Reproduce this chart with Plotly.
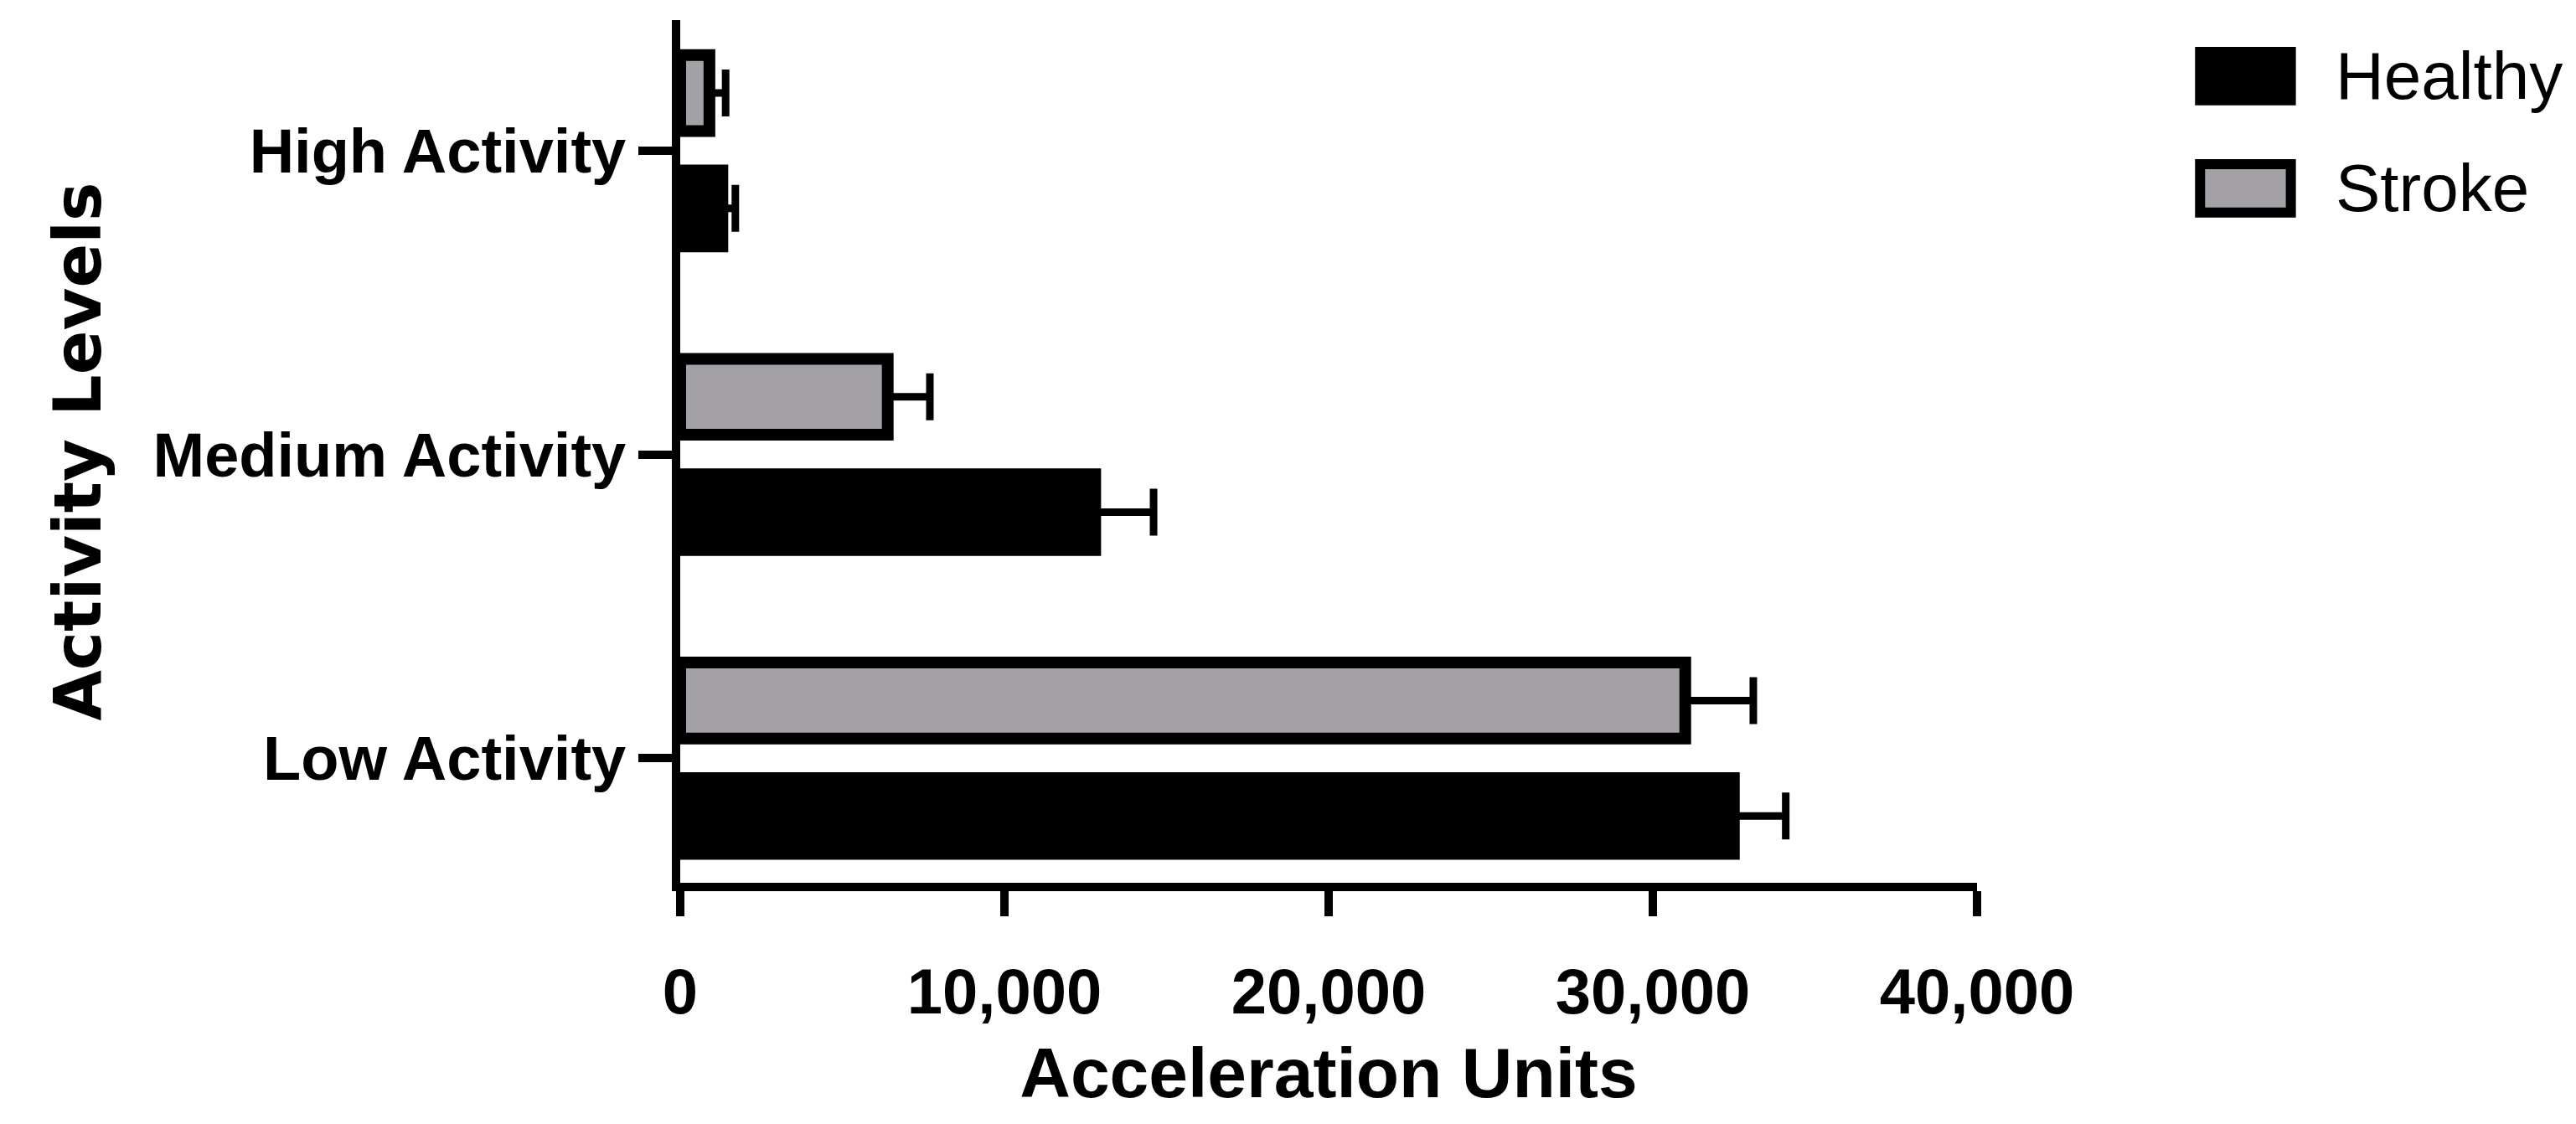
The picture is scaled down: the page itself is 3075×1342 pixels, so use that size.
import plotly.graph_objects as go

categories = ["Low Activity", "Medium Activity", "High Activity"]
healthy = [32500, 12800, 1300]
healthy_err = [1600, 1800, 400]
stroke = [31000, 6400, 900]
stroke_err = [2100, 1300, 500]
series_names = ["Healthy", "Stroke"]
series_colors = ["black", "#a3a1a6"]

FONT = "Liberation Sans, Arial, sans-serif"

fig = go.Figure()
fig.add_trace(go.Bar(
    y=categories, x=healthy, orientation="h", name="Healthy",
    width=0.25, offset=-0.315,
    marker=dict(color="black", line=dict(color="black", width=14)),
    error_x=dict(type="data", array=healthy_err, arrayminus=[0, 0, 0],
                 symmetric=False, color="black", thickness=9, width=28),
))
fig.add_trace(go.Bar(
    y=categories, x=stroke, orientation="h", name="Stroke",
    width=0.25, offset=0.065,
    marker=dict(color="#a3a1a6", line=dict(color="black", width=14)),
    error_x=dict(type="data", array=stroke_err, arrayminus=[0, 0, 0],
                 symmetric=False, color="black", thickness=9, width=28),
))

# legend drawn by hand so the swatches can be large
for i, (name, col) in enumerate(zip(series_names, series_colors)):
    yc = 0.935 - i * 0.13
    fig.add_shape(type="rect", xref="paper", yref="paper",
                  x0=1.172, x1=1.242, y0=yc - 0.028, y1=yc + 0.028,
                  fillcolor=col, line=dict(color="black", width=12))
    fig.add_annotation(text=name, xref="paper", yref="paper", x=1.275, y=yc,
                       xanchor="left", yanchor="middle", showarrow=False,
                       font=dict(family=FONT, size=80, color="black"))

fig.update_xaxes(
    range=[0, 40000], tickvals=[0, 10000, 20000, 30000, 40000],
    tickformat=",", showgrid=False, zeroline=False,
    showline=True, linecolor="black", linewidth=10,
    ticks="outside", ticklen=30, tickwidth=10, tickcolor="black",
    ticklabelstandoff=25,
    tickfont=dict(family=FONT, size=76, color="black", weight="bold"),
    title=dict(text="<b>Acceleration Units</b>", standoff=30,
               font=dict(family=FONT, size=84, color="black")),
)
fig.update_yaxes(
    range=[-0.41, 2.43], showgrid=False, zeroline=False,
    showline=True, linecolor="black", linewidth=10,
    ticks="outside", ticklen=40, tickwidth=10, tickcolor="black",
    tickfont=dict(family=FONT, size=74, color="black", weight="bold"),
    title=dict(text="<b>Activity Levels</b>", standoff=40,
               font=dict(family="DejaVu Sans, sans-serif", size=78, color="black")),
)
fig.update_layout(
    width=3075, height=1342, template="plotly_white",
    plot_bgcolor="white", paper_bgcolor="white",
    margin=dict(l=804, r=723, t=16, b=296),
    showlegend=False,
    barmode="overlay",
)
fig.write_html("out.html")
